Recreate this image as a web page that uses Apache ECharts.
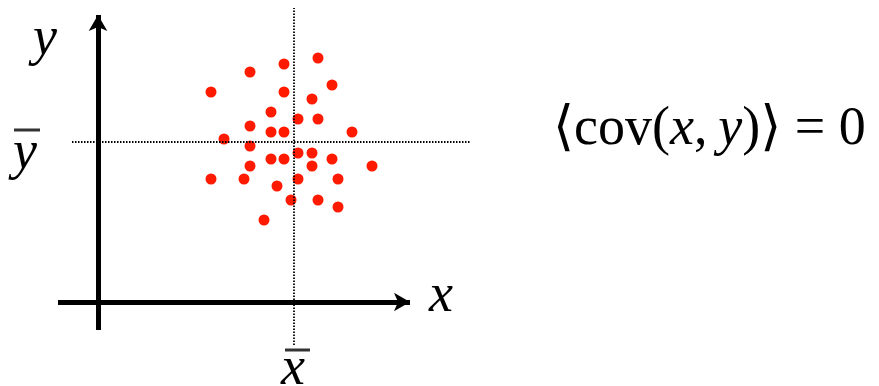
<!DOCTYPE html>
<html>
<head>
<meta charset="utf-8">
<script src="https://cdn.jsdelivr.net/npm/echarts@6/dist/echarts.min.js"></script>
<style>
html,body{margin:0;padding:0;background:#fff;}
#chart{width:879px;height:386px;}
</style>
</head>
<body>
<div id="chart"></div>
<script>
// Scatter points (x, y) in abstract units; origin = axes intersection
var dotX = [22.0, 18.6, 15.2, 11.3, 18.6, 23.4, 21.4, 17.3, 20.0, 22.0, 15.2, 17.3, 18.6, 25.4, 12.6, 15.2, 20.0,
            21.4, 17.3, 18.6, 23.4, 15.2, 21.4, 27.4, 11.3, 14.6, 20.0, 24.0, 17.9, 19.3, 22.0, 24.0, 16.6];
var dotY = [24.4, 23.8, 23.0, 21.0, 21.0, 21.7, 20.3, 19.0, 18.3, 18.3, 17.6, 17.0, 17.0, 17.0, 16.3, 15.6, 14.9,
            14.9, 14.3, 14.3, 14.3, 13.6, 13.6, 13.6, 12.3, 12.3, 12.3, 12.3, 11.6, 10.2, 10.2, 9.5, 8.2];
var meanX = 19.6;
var meanY = 16.0;
// axis arrows extents
var xAxisRange = [-4.0, 31.2];
var yAxisRange = [-2.8, 28.7];
// mean guide line extents
var meanXRange = [-4.3, 29.4];
var meanYRange = [-2.6, 37.2];
var viewX = [-9.8, 78.1];
var viewY = [-8.4, 30.2];

var points = dotX.map(function (x, i) { return [x, dotY[i]]; });

var chart = echarts.init(document.getElementById('chart'));
var serif = '"Liberation Serif", "DejaVu Serif", serif';
var black = '#000';
var option = {
  animation: false,
  backgroundColor: '#fff',
  grid: { left: 0, right: 0, top: 0, bottom: 0 },
  xAxis: { type: 'value', min: viewX[0], max: viewX[1], show: false },
  yAxis: { type: 'value', min: viewY[0], max: viewY[1], show: false },
  series: [
    {
      type: 'scatter',
      data: points,
      symbolSize: 11,
      itemStyle: { color: '#ff1a00', opacity: 1 },
      z: 2,
      silent: true
    },
    {
      type: 'line',
      data: [],
      z: 3,
      markLine: {
        silent: true,
        symbol: ['none', 'none'],
        label: { show: false },
        lineStyle: { color: '#000', width: 1.8, type: [1.5, 1.5], opacity: 1 },
        emphasis: { disabled: true },
        data: [
          [{ coord: [meanX, meanXRange[0]] }, { coord: [meanX, meanXRange[1]] }],
          [{ coord: [meanYRange[0], meanY] }, { coord: [meanYRange[1], meanY] }]
        ]
      }
    },
    {
      type: 'line',
      data: [],
      z: 4,
      markLine: {
        silent: true,
        symbol: ['none', 'arrow'],
        symbolSize: [14, 16],
        label: { show: false },
        lineStyle: { color: black, width: 5, type: 'solid', opacity: 1 },
        data: [
          [{ coord: [0, yAxisRange[0]] }, { coord: [0, yAxisRange[1]] }],
          [{ coord: [xAxisRange[0], 0] }, { coord: [xAxisRange[1], 0] }]
        ]
      }
    }
  ],
  graphic: [
    { type: 'text', left: 33, top: 13, style: { text: 'y', font: 'italic 54px ' + serif, fill: black } },
    { type: 'text', left: 13, top: 127, style: { text: 'y', font: 'italic 54px ' + serif, fill: black } },
    { type: 'line', shape: { x1: 14, y1: 130, x2: 40, y2: 130 }, style: { stroke: '#333', lineWidth: 3 } },
    { type: 'text', left: 429, top: 270, style: { text: 'x', font: 'italic 54px ' + serif, fill: black } },
    { type: 'text', left: 281, top: 343, style: { text: 'x', font: 'italic 54px ' + serif, fill: black } },
    { type: 'line', shape: { x1: 285, y1: 350, x2: 310, y2: 350 }, style: { stroke: '#333', lineWidth: 3 } },
    {
      type: 'text', left: 553, top: 103,
      style: {
        text: '{u|\u27E8cov(}{i|x}{u|,\u2009}{i|y}{u|)\u27E9 = 0}',
        rich: {
          u: { font: '54px ' + serif, fill: black },
          i: { font: 'italic 54px ' + serif, fill: black }
        }
      }
    }
  ]
};
chart.setOption(option);
</script>
</body>
</html>
